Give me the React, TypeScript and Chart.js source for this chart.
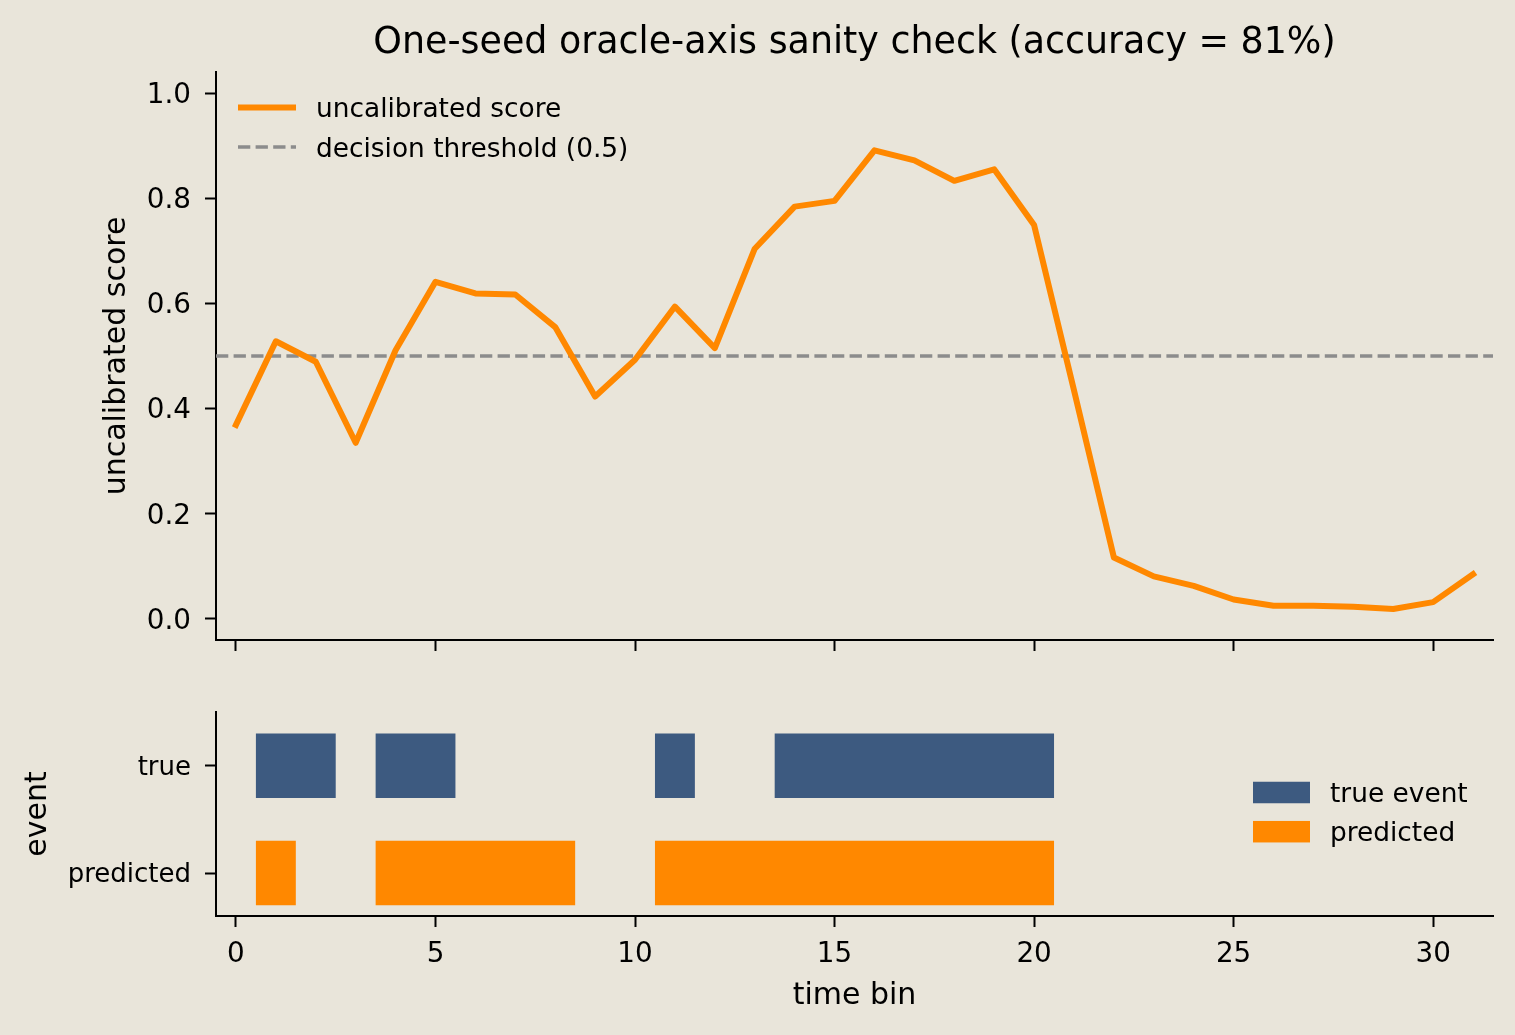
import { useEffect, useRef } from 'react';
import { Chart, registerables } from 'chart.js';

Chart.register(...registerables);

// shared x axis: time bins
const timeBins = [0, 1, 2, 3, 4, 5, 6, 7, 8, 9, 10, 11, 12, 13, 14, 15, 16, 17, 18, 19, 20, 21, 22, 23, 24, 25, 26, 27, 28, 29, 30, 31];

// uncalibrated score per bin
const scores = [
    0.369, 0.528, 0.489, 0.335, 0.511, 0.641, 0.619, 0.617, 0.555, 0.423,
    0.493, 0.594, 0.515, 0.704, 0.784, 0.795, 0.891, 0.872, 0.833, 0.855,
    0.749, 0.435, 0.117, 0.081, 0.063, 0.037, 0.025, 0.025, 0.023, 0.019,
    0.032, 0.085,
];

// event flags per bin (bottom panel)
const trueEvent = [0, 1, 1, 0, 1, 1, 0, 0, 0, 0, 0, 1, 0, 0, 1, 1, 1, 1, 1, 1, 1, 0, 0, 0, 0, 0, 0, 0, 0, 0, 0, 0];
const predictedEvent = [0, 1, 0, 0, 1, 1, 1, 1, 1, 0, 0, 1, 1, 1, 1, 1, 1, 1, 1, 1, 1, 0, 0, 0, 0, 0, 0, 0, 0, 0, 0, 0];

const scoreTicks = [0, 0.2, 0.4, 0.6, 0.8, 1.0];
const binTicks = [0, 5, 10, 15, 20, 25, 30];
const eventRows = ['predicted', 'true'];
const threshold = 0.5;

const BG = '#E9E5DA';
const ORANGE = '#FF8800';
const NAVY = '#3D5A80';
const GREY = '#8C8C8C';
const INK = '#000000';
const FONT = "'DejaVu Sans', sans-serif";

const binRange = { min: -0.5, max: 31.5 };

const matches = trueEvent.filter((t, i) => t === predictedEvent[i]).length;
const accuracy = Math.round((100 * matches) / trueEvent.length);

// merge consecutive flagged bins into floating bars
function toSegments(flags: number[], row: number) {
    const segs: { x: [number, number]; y: number }[] = [];
    let start = -1;
    flags.forEach((f, i) => {
        if (f && start < 0) start = i;
        const last = i === flags.length - 1;
        if (start >= 0 && (!f || last)) {
            const end = f ? i : i - 1;
            segs.push({ x: [timeBins[start] - 0.5, timeBins[end] + 0.5], y: row });
            start = -1;
        }
    });
    return segs;
}

const spine = { display: true, color: INK, width: 2 };
const tickMarks = { display: true, drawOnChartArea: false, drawTicks: true, tickLength: 11, tickWidth: 2, tickColor: INK };

const setTicks = (values: number[]) => (s: any) => {
    s.ticks = values.map((value) => ({ value }));
};
const fixWidth = (w: number) => (s: any) => {
    s.width = w;
    s.paddingTop = 0;
    s.paddingBottom = 0;
};
const fixHeight = (h: number) => (s: any) => {
    s.height = h;
    s.paddingLeft = 0;
    s.paddingRight = 0;
};

const titlePlugin = {
    id: 'figTitle',
    afterDraw(chart: any) {
        const { ctx, chartArea } = chart;
        ctx.save();
        ctx.font = `36.4px ${FONT}`;
        ctx.fillStyle = INK;
        ctx.textAlign = 'center';
        ctx.textBaseline = 'alphabetic';
        ctx.fillText(
            `One-seed oracle-axis sanity check (accuracy = ${accuracy}%)`,
            (chartArea.left + chartArea.right) / 2,
            chartArea.top - 19
        );
        ctx.restore();
    },
};

const lineLegend = {
    id: 'lineLegend',
    afterDraw(chart: any) {
        const { ctx, chartArea } = chart;
        ctx.save();
        ctx.font = `26.4px ${FONT}`;
        chart.data.datasets.forEach((ds: any, i: number) => {
            const x = chartArea.left + 22;
            const y = chartArea.top + 35.5 + i * 39.5;
            ctx.beginPath();
            ctx.strokeStyle = ds.borderColor;
            ctx.lineWidth = ds.borderWidth;
            ctx.setLineDash(ds.borderDash || []);
            ctx.lineCap = 'butt';
            ctx.moveTo(x, y);
            ctx.lineTo(x + 58, y);
            ctx.stroke();
            ctx.setLineDash([]);
            ctx.fillStyle = INK;
            ctx.textAlign = 'left';
            ctx.textBaseline = 'alphabetic';
            ctx.fillText(ds.label, x + 78, y + 9.5);
        });
        ctx.restore();
    },
};

const patchLegend = {
    id: 'patchLegend',
    afterDraw(chart: any) {
        const { ctx, chartArea } = chart;
        ctx.save();
        ctx.font = `26.4px ${FONT}`;
        chart.data.datasets.forEach((ds: any, i: number) => {
            const x = chartArea.right - 240;
            const y = chartArea.top + 80.5 + i * 39.2;
            ctx.fillStyle = ds.backgroundColor;
            ctx.fillRect(x, y - 10.75, 57, 21.5);
            ctx.fillStyle = INK;
            ctx.textAlign = 'left';
            ctx.textBaseline = 'alphabetic';
            ctx.fillText(ds.label, x + 77, y + 9.7);
        });
        ctx.restore();
    },
};

export default function App() {
    const topRef = useRef<HTMLCanvasElement>(null);
    const bottomRef = useRef<HTMLCanvasElement>(null);

    useEffect(() => {
        document.body.style.margin = '0';
        document.body.style.background = BG;
        if (!topRef.current || !bottomRef.current) return;

        const top = new Chart(topRef.current, {
            type: 'line',
            data: {
                datasets: [
                    {
                        label: 'uncalibrated score',
                        data: timeBins.map((t, i) => ({ x: t, y: scores[i] })),
                        borderColor: ORANGE,
                        borderWidth: 6,
                        borderJoinStyle: 'round',
                        borderCapStyle: 'square',
                        pointRadius: 0,
                        tension: 0,
                    },
                    {
                        label: 'decision threshold (0.5)',
                        data: [
                            { x: binRange.min, y: threshold },
                            { x: binRange.max, y: threshold },
                        ],
                        borderColor: GREY,
                        borderWidth: 3.3,
                        borderDash: [12.3, 5.3],
                        pointRadius: 0,
                    },
                ],
            },
            options: {
                responsive: false,
                animation: false,
                events: [],
                layout: { padding: { left: 0, right: 22, top: 72, bottom: 0 } },
                plugins: { legend: { display: false }, tooltip: { enabled: false } },
                scales: {
                    x: {
                        type: 'linear',
                        min: binRange.min,
                        max: binRange.max,
                        afterBuildTicks: setTicks(binTicks),
                        afterFit: fixHeight(50),
                        ticks: { display: false },
                        grid: tickMarks,
                        border: spine,
                    },
                    y: {
                        type: 'linear',
                        min: -0.04,
                        max: 1.04,
                        afterBuildTicks: setTicks(scoreTicks),
                        afterFit: fixWidth(216),
                        ticks: {
                            color: INK,
                            padding: 14,
                            labelOffset: 2.5,
                            font: { family: FONT, size: 27.8 },
                            callback: (v: any) => Number(v).toFixed(1),
                        },
                        title: {
                            display: true,
                            text: 'uncalibrated score',
                            color: INK,
                            font: { family: FONT, size: 30 },
                            padding: { top: 99, bottom: 0 },
                        },
                        grid: tickMarks,
                        border: spine,
                    },
                },
            },
            plugins: [titlePlugin, lineLegend],
        });

        const bottom = new Chart(bottomRef.current, {
            type: 'bar',
            data: {
                datasets: [
                    {
                        label: 'true event',
                        data: toSegments(trueEvent, 1) as any,
                        backgroundColor: NAVY,
                        borderWidth: 0,
                        grouped: false,
                        barPercentage: 0.6,
                        categoryPercentage: 1,
                    },
                    {
                        label: 'predicted',
                        data: toSegments(predictedEvent, 0) as any,
                        backgroundColor: ORANGE,
                        borderWidth: 0,
                        grouped: false,
                        barPercentage: 0.6,
                        categoryPercentage: 1,
                    },
                ],
            },
            options: {
                indexAxis: 'y',
                responsive: false,
                animation: false,
                events: [],
                layout: { padding: { left: 0, right: 22, top: 22, bottom: 0 } },
                plugins: { legend: { display: false }, tooltip: { enabled: false } },
                scales: {
                    x: {
                        type: 'linear',
                        min: binRange.min,
                        max: binRange.max,
                        afterBuildTicks: setTicks(binTicks),
                        afterFit: fixHeight(119),
                        ticks: {
                            color: INK,
                            padding: 11,
                            font: { family: FONT, size: 27.8 },
                            maxRotation: 0,
                            autoSkip: false,
                        },
                        title: {
                            display: true,
                            text: 'time bin',
                            color: INK,
                            font: { family: FONT, size: 30 },
                            padding: { top: 0, bottom: 21 },
                        },
                        grid: tickMarks,
                        border: spine,
                    },
                    y: {
                        type: 'linear',
                        min: -0.4,
                        max: 1.5,
                        offset: false,
                        afterBuildTicks: setTicks([0, 1]),
                        afterFit: fixWidth(216),
                        ticks: {
                            color: INK,
                            padding: 14,
                            labelOffset: 2.5,
                            font: { family: FONT, size: 26 },
                            callback: (v: any) => eventRows[Number(v)],
                        },
                        title: {
                            display: true,
                            text: 'event',
                            color: INK,
                            font: { family: FONT, size: 30 },
                            padding: { top: 20, bottom: 0 },
                        },
                        grid: { ...tickMarks, offset: false },
                        border: spine,
                    },
                },
            },
            plugins: [patchLegend],
        });

        return () => {
            top.destroy();
            bottom.destroy();
        };
    }, []);

    return (
        <div style={{ position: 'relative', width: 1515, height: 1035, background: BG, overflow: 'hidden' }}>
            <canvas ref={topRef} width={1515} height={690} style={{ position: 'absolute', left: 0, top: 0 }} />
            <canvas ref={bottomRef} width={1515} height={345} style={{ position: 'absolute', left: 0, top: 690 }} />
        </div>
    );
}
